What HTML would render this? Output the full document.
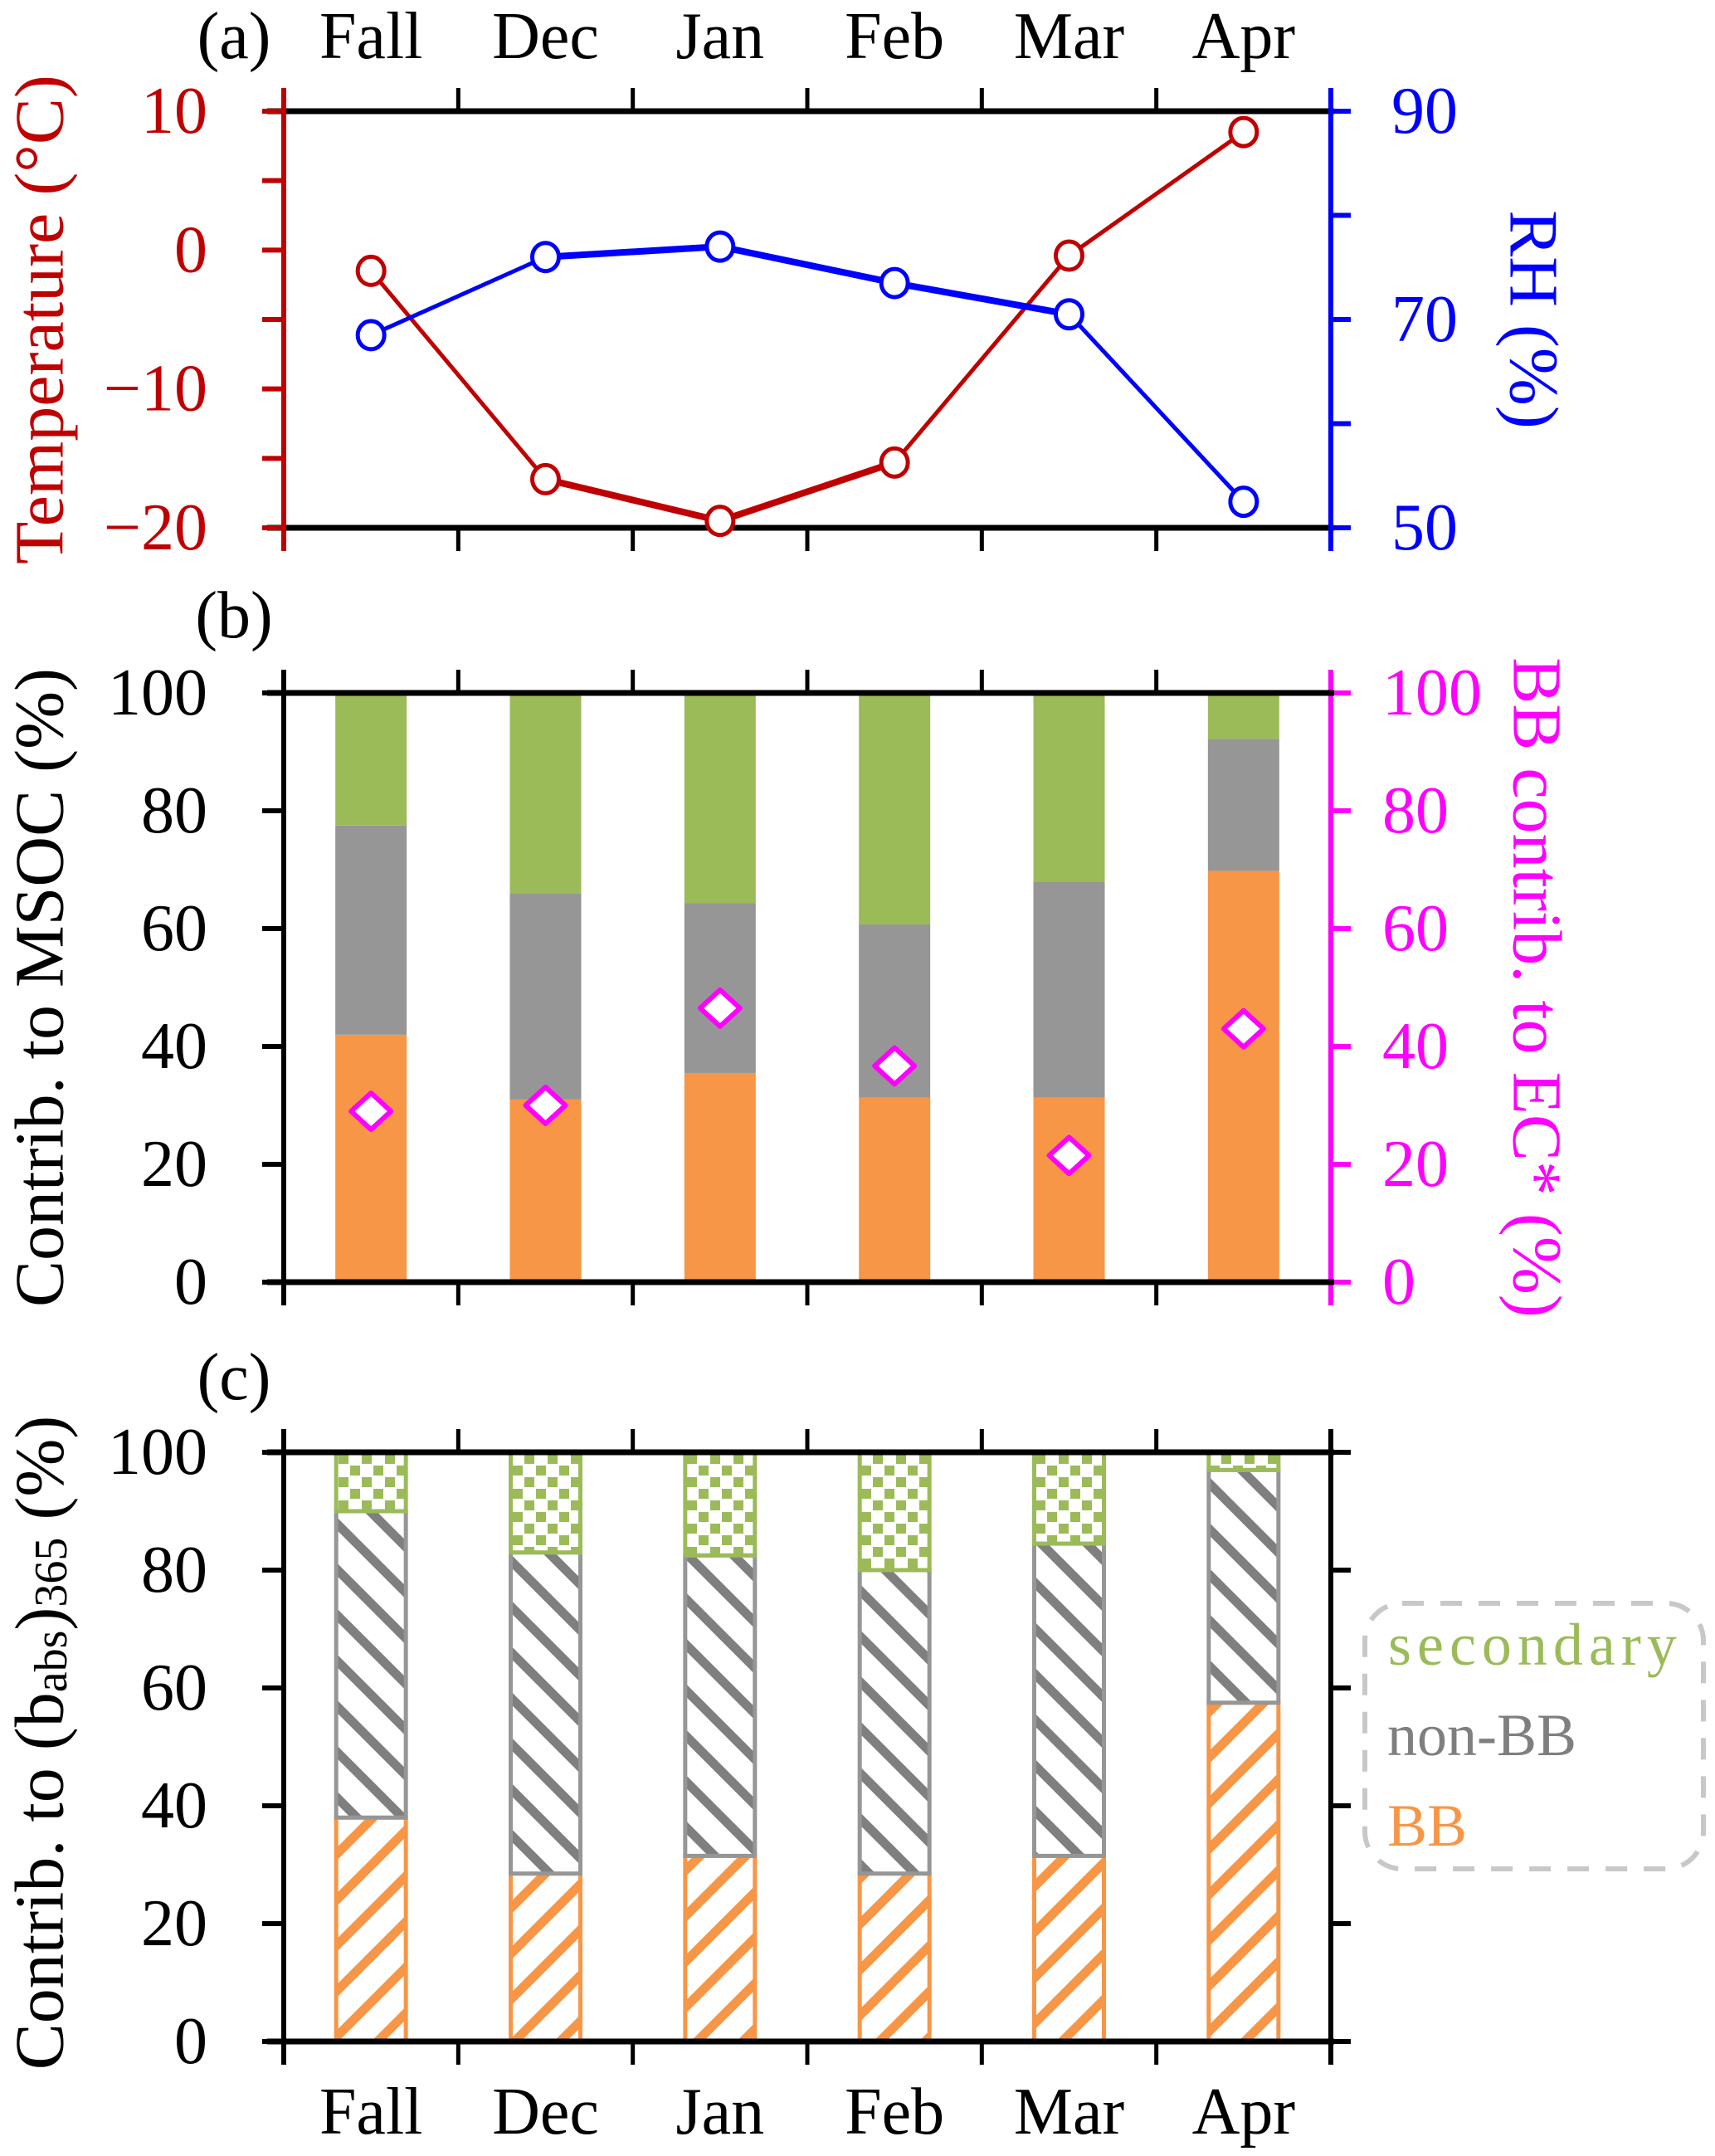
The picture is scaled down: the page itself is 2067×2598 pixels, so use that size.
<!DOCTYPE html>
<html><head><meta charset="utf-8"><style>
html,body{margin:0;padding:0;background:#fff;}
svg{display:block;}
text{font-family:"Liberation Serif",serif;}
</style></head><body>
<svg id="chart" width="2067" height="2598" viewBox="0 0 2067 2598" xmlns="http://www.w3.org/2000/svg">
<defs>
<pattern id="hatchBB" patternUnits="userSpaceOnUse" width="55" height="55">
<rect width="55" height="55" fill="#fff"/>
<path d="M-10,65 L65,-10 M-65,65 L10,-10 M45,65 L120,-10" stroke="#f79646" stroke-width="11"/>
</pattern>
<pattern id="hatchNB" patternUnits="userSpaceOnUse" width="55" height="55">
<rect width="55" height="55" fill="#fff"/>
<path d="M-10,-10 L65,65 M-65,-10 L10,65 M45,-10 L120,65" stroke="#7f7f7f" stroke-width="11"/>
</pattern>
<pattern id="dotsSec" patternUnits="userSpaceOnUse" width="28" height="28">
<rect width="28" height="28" fill="#fff"/>
<rect x="2" y="2" width="12" height="12" fill="#9bbb59"/>
<rect x="16" y="16" width="12" height="12" fill="#9bbb59"/>
</pattern>
</defs>
<g id="root"></g>
</svg>
<script>
const categories = ["Fall","Dec","Jan","Feb","Mar","Apr"];
const temperature = [-1.5,-16.5,-19.5,-15.3,-0.4,8.5];
const rh = [68.5,76,77,73.5,70.5,52.5];
const msocBB = [42,31,35.5,31.3,31.3,69.8];
const msocNonBB = [35.5,35,28.8,29.4,36.7,22.4];
const msocSec = [22.5,34,35.7,39.3,32,7.8];
const bbEC = [29,30,46.5,36.7,21.5,43];
const babsBB = [38,28.5,31.5,28.5,31.5,57.5];
const babsNonBB = [52,54.5,51,51.5,53,39.5];
const babsSec = [10,17,17.5,20,15.5,3];
const tempTicks = [-20,-10,0,10];
const tempTickLabels = ["\u221220","\u221210","0","10"];
const rhTicks = [50,70,90];
const pctTicks = [0,20,40,60,80,100];

const NS="http://www.w3.org/2000/svg";
const root=document.getElementById('root');
const L=342,R=1604,N=categories.length,step=(R-L)/N;
function cx(i){return L+step*(i+0.5);}
function mk(tag,attrs,parent){const e=document.createElementNS(NS,tag);for(const k in attrs)e.setAttribute(k,attrs[k]);(parent||root).appendChild(e);return e;}
function yScale(top,bot,min,max){return v=>bot-(v-min)/(max-min)*(bot-top);}
function txt(s,x,y,size,fill,anchor,rot,name){const t=mk('text',{x:x,y:y,'font-size':size,fill:fill,'text-anchor':anchor||'middle','dominant-baseline':'central'});if(rot)t.setAttribute('transform','rotate('+rot+' '+x+' '+y+')');t.textContent=s;


return t;}

function frame(top,bot,leftColor,rightColor,name){
  const g=mk('g',{});
  
  
  mk('line',{x1:L-20,y1:top,x2:R+4,y2:top,stroke:'#000','stroke-width':7},g);
  mk('line',{x1:L-20,y1:bot,x2:R+4,y2:bot,stroke:'#000','stroke-width':7},g);
  for(let i=0;i<=N;i++){const x=L+step*i;
    mk('line',{x1:x,y1:top-28,x2:x,y2:top,stroke:'#000','stroke-width':5},g);
    mk('line',{x1:x,y1:bot,x2:x,y2:bot+28,stroke:'#000','stroke-width':5},g);}
  mk('line',{x1:L,y1:top-28,x2:L,y2:bot+28,stroke:leftColor,'stroke-width':6},g);
  mk('line',{x1:R,y1:top-28,x2:R,y2:bot+28,stroke:rightColor,'stroke-width':6},g);
  return g;
}

// ===== Panel a =====
const aT=134,aB=636;
frame(aT,aB,'#c00000','#0000ff','panel-a-frame');
const yT=yScale(aT,aB,-20,10), yR=yScale(aT,aB,50,90);
for(let v=-20;v<=10;v+=5){mk('line',{x1:L-26,y1:yT(v),x2:L,y2:yT(v),stroke:'#c00000','stroke-width':6});}
tempTicks.forEach((v,i)=>txt(tempTickLabels[i],250,yT(v),80,'#c00000','end',0,'temp-tick-label'));
for(let v=50;v<=90;v+=10){mk('line',{x1:R,y1:yR(v),x2:R+24,y2:yR(v),stroke:'#0000ff','stroke-width':6});}
rhTicks.forEach(v=>txt(String(v),1677,yR(v),80,'#0000ff','start',0,'rh-tick-label'));
txt('Temperature (\u00b0C)',48,385,84,'#c00000','middle',-90,'y-axis-title-temperature');
txt('RH (%)',1848,385,84,'#0000ff','middle',90,'y-axis-title-rh');
txt('(a)',282,44,80,'#000','middle',0,'panel-label-a');
categories.forEach((c,i)=>txt(c,cx(i),44,80,'#000','middle',0,'top-category-label'));
function series(vals,sc,color,name,thickFrom,thickTo){
  for(let i=0;i<vals.length-1;i++){
    const w=(i>=thickFrom&&i<=thickTo)?8:5;
    const l=mk('line',{x1:cx(i),y1:sc(vals[i]),x2:cx(i+1),y2:sc(vals[i+1]),stroke:color,'stroke-width':w});
    
    
  }
  vals.forEach((v,i)=>{const c=mk('ellipse',{cx:cx(i),cy:sc(v),rx:16,ry:17,fill:'#fff',stroke:color,'stroke-width':5});
    
    });
}
series(temperature,yT,'#c00000','temperature',1,2);
series(rh,yR,'#0000ff','rh',1,3);

// ===== Panel b =====
const bT=835,bB=1545;
frame(bT,bB,'#000','#ff00ff','panel-b-frame');
const yB=yScale(bT,bB,0,100);
pctTicks.forEach(v=>{mk('line',{x1:L-26,y1:yB(v),x2:L,y2:yB(v),stroke:'#000','stroke-width':6});
  txt(String(v),250,yB(v),80,'#000','end',0,'msoc-tick-label');
  mk('line',{x1:R,y1:yB(v),x2:R+24,y2:yB(v),stroke:'#ff00ff','stroke-width':6});
  txt(String(v),1666,yB(v),80,'#ff00ff','start',0,'ec-tick-label');});
txt('Contrib. to MSOC (%)',48,1190,84,'#000','middle',-90,'y-axis-title-msoc');
txt('BB contrib. to EC* (%)',1852,1190,84,'#ff00ff','middle',90,'y-axis-title-ec');
txt('(b)',282,742,80,'#000','middle',0,'panel-label-b');
const bw=86;
categories.forEach((c,i)=>{
  let base=0;
  [[msocBB[i],'#f79646','msoc-bar-bb'],[msocNonBB[i],'#969696','msoc-bar-nonbb'],[msocSec[i],'#9bbb59','msoc-bar-secondary']].forEach(([v,col,nm])=>{
    const r=mk('rect',{x:cx(i)-bw/2,y:yB(base+v),width:bw,height:yB(base)-yB(base+v),fill:col});
    
    
    base+=v;});
});
bbEC.forEach((v,i)=>{const x=cx(i),y=yB(v);
  const p=mk('polygon',{points:`${x},${y-22} ${x+24},${y} ${x},${y+22} ${x-24},${y}`,fill:'#fff',stroke:'#ff00ff','stroke-width':6,'stroke-linejoin':'round'});
  
  });
mk('line',{x1:L-20,y1:bT,x2:R+4,y2:bT,stroke:'#000','stroke-width':7});
mk('line',{x1:L-20,y1:bB,x2:R+4,y2:bB,stroke:'#000','stroke-width':7});

// ===== Panel c =====
const cT=1750,cB=2460;
frame(cT,cB,'#000','#000','panel-c-frame');
const yC=yScale(cT,cB,0,100);
pctTicks.forEach(v=>{mk('line',{x1:L-26,y1:yC(v),x2:L,y2:yC(v),stroke:'#000','stroke-width':6});
  txt(String(v),250,yC(v),80,'#000','end',0,'babs-tick-label');
  mk('line',{x1:R,y1:yC(v),x2:R+24,y2:yC(v),stroke:'#000','stroke-width':6});});
const yt=mk('text',{x:48,y:2100,'font-size':84,fill:'#000','text-anchor':'middle','dominant-baseline':'central',transform:'rotate(-90 48 2100)'});


yt.innerHTML='Contrib. to (b<tspan font-size="56" dy="14">abs</tspan><tspan dy="-14">)</tspan><tspan font-size="56" dy="14">365</tspan><tspan dy="-14"> (%)</tspan>';
txt('(c)',282,1660,80,'#000','middle',0,'panel-label-c');
categories.forEach((c,i)=>{
  let base=0;
  [[babsBB[i],'url(#hatchBB)','#f79646','babs-bar-bb'],[babsNonBB[i],'url(#hatchNB)','#969696','babs-bar-nonbb'],[babsSec[i],'url(#dotsSec)','#9bbb59','babs-bar-secondary']].forEach(([v,fill,st,nm])=>{
    const r=mk('rect',{x:cx(i)-42,y:yC(base+v),width:84,height:yC(base)-yC(base+v),fill:fill,stroke:st,'stroke-width':5});
    
    
    base+=v;});
});
mk('line',{x1:L-20,y1:cT,x2:R+4,y2:cT,stroke:'#000','stroke-width':7});
mk('line',{x1:L-20,y1:cB,x2:R+4,y2:cB,stroke:'#000','stroke-width':7});
categories.forEach((c,i)=>txt(c,cx(i),2545,80,'#000','middle',0,'bottom-category-label'));

// legend
const lg=mk('rect',{x:1645,y:1932,width:408,height:320,rx:45,fill:'#fff',stroke:'#c8c8c8','stroke-width':6,'stroke-dasharray':'26,20'});


const l1=mk('text',{x:1673,y:2006,'font-size':72,fill:'#9bbb59','letter-spacing':'7'});l1.textContent='secondary';


const l2=mk('text',{x:1672,y:2115,'font-size':72,fill:'#7f7f7f'});l2.textContent='non-BB';


const l3=mk('text',{x:1672,y:2224,'font-size':72,fill:'#f79646'});l3.textContent='BB';


</script>
</body></html>
